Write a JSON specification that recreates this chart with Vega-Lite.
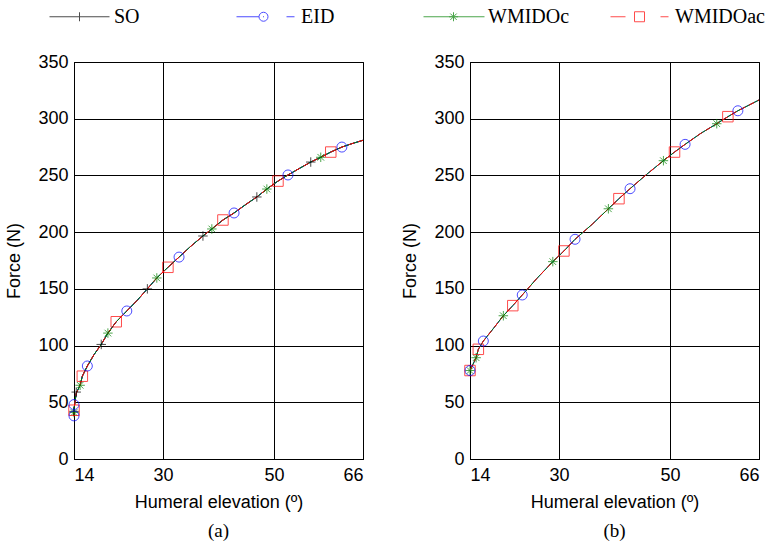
{
  "$schema": "https://vega.github.io/schema/vega-lite/v6.json",
  "background": "white",
  "padding": {"left": 5, "top": 6, "right": 5, "bottom": 5},
  "bounds": "flush",
  "spacing": 107,
  "datasets": {
    "curveA": [
      {"elevation": 14, "force": 38}, {"elevation": 14, "force": 44}, {"elevation": 14.4, "force": 58},
      {"elevation": 15.1, "force": 65}, {"elevation": 15.5, "force": 73}, {"elevation": 16.4, "force": 82},
      {"elevation": 17.6, "force": 92}, {"elevation": 18.9, "force": 101}, {"elevation": 20.1, "force": 111},
      {"elevation": 21.6, "force": 121}, {"elevation": 23.5, "force": 130.5}, {"elevation": 25.4, "force": 140},
      {"elevation": 27.2, "force": 150}, {"elevation": 28.9, "force": 159.6}, {"elevation": 30.9, "force": 169},
      {"elevation": 32.9, "force": 178}, {"elevation": 35, "force": 187.5}, {"elevation": 37.2, "force": 196.6},
      {"elevation": 38.8, "force": 202.8}, {"elevation": 40.8, "force": 210.7}, {"elevation": 42.8, "force": 216.9},
      {"elevation": 44.8, "force": 224}, {"elevation": 46.9, "force": 231}, {"elevation": 48.7, "force": 238},
      {"elevation": 50.7, "force": 245}, {"elevation": 52.5, "force": 250.4}, {"elevation": 54.5, "force": 256},
      {"elevation": 56.6, "force": 261.8}, {"elevation": 58.4, "force": 266}, {"elevation": 60.2, "force": 270.6},
      {"elevation": 62.2, "force": 275}, {"elevation": 64, "force": 278}, {"elevation": 66, "force": 281}
    ],
    "markA": [
      {"series": "SO", "elevation": 14, "force": 42}, {"series": "SO", "elevation": 14.4, "force": 59},
      {"series": "SO", "elevation": 18.9, "force": 101}, {"series": "SO", "elevation": 27.2, "force": 150},
      {"series": "SO", "elevation": 37.2, "force": 196.6}, {"series": "SO", "elevation": 46.9, "force": 231},
      {"series": "SO", "elevation": 56.6, "force": 261.8},
      {"series": "EID", "elevation": 14, "force": 38}, {"series": "EID", "elevation": 14, "force": 48},
      {"series": "EID", "elevation": 16.4, "force": 82}, {"series": "EID", "elevation": 23.5, "force": 130.5},
      {"series": "EID", "elevation": 32.9, "force": 178}, {"series": "EID", "elevation": 42.8, "force": 216.9},
      {"series": "EID", "elevation": 52.5, "force": 250.4}, {"series": "EID", "elevation": 62.2, "force": 275},
      {"series": "WMIDOc", "elevation": 14, "force": 41}, {"series": "WMIDOc", "elevation": 15.1, "force": 65},
      {"series": "WMIDOc", "elevation": 20.1, "force": 111}, {"series": "WMIDOc", "elevation": 28.9, "force": 159.6},
      {"series": "WMIDOc", "elevation": 38.8, "force": 202.8}, {"series": "WMIDOc", "elevation": 48.7, "force": 238},
      {"series": "WMIDOc", "elevation": 58.4, "force": 266},
      {"series": "WMIDOac", "elevation": 14, "force": 43}, {"series": "WMIDOac", "elevation": 15.5, "force": 73},
      {"series": "WMIDOac", "elevation": 21.6, "force": 121}, {"series": "WMIDOac", "elevation": 30.9, "force": 169},
      {"series": "WMIDOac", "elevation": 40.8, "force": 210.7}, {"series": "WMIDOac", "elevation": 50.7, "force": 245},
      {"series": "WMIDOac", "elevation": 60.2, "force": 270.6}
    ],
    "curveB": [
      {"elevation": 14, "force": 78}, {"elevation": 15.1, "force": 89.3}, {"elevation": 15.5, "force": 96.7},
      {"elevation": 16.4, "force": 104}, {"elevation": 18.2, "force": 115}, {"elevation": 20, "force": 126.3},
      {"elevation": 21.7, "force": 135.2}, {"elevation": 23.4, "force": 144.6}, {"elevation": 26, "force": 159},
      {"elevation": 28.9, "force": 174}, {"elevation": 30.9, "force": 183.4}, {"elevation": 32.9, "force": 193.7},
      {"elevation": 36, "force": 207}, {"elevation": 38.9, "force": 220.6}, {"elevation": 40.8, "force": 229.5},
      {"elevation": 42.8, "force": 238.3}, {"elevation": 45.8, "force": 251}, {"elevation": 48.8, "force": 263},
      {"elevation": 50.8, "force": 270.6}, {"elevation": 52.7, "force": 277.4}, {"elevation": 55.5, "force": 287},
      {"elevation": 58.4, "force": 295.6}, {"elevation": 60.4, "force": 301.8}, {"elevation": 62.2, "force": 307},
      {"elevation": 66, "force": 316.5}
    ],
    "markB": [
      {"series": "EID", "elevation": 14, "force": 78}, {"series": "EID", "elevation": 16.4, "force": 104},
      {"series": "EID", "elevation": 23.4, "force": 144.6}, {"series": "EID", "elevation": 32.9, "force": 193.7},
      {"series": "EID", "elevation": 42.8, "force": 238.3}, {"series": "EID", "elevation": 52.7, "force": 277.4},
      {"series": "EID", "elevation": 62.2, "force": 307},
      {"series": "WMIDOc", "elevation": 14, "force": 78}, {"series": "WMIDOc", "elevation": 15.1, "force": 89.3},
      {"series": "WMIDOc", "elevation": 20, "force": 126.3}, {"series": "WMIDOc", "elevation": 28.9, "force": 174},
      {"series": "WMIDOc", "elevation": 38.9, "force": 220.6}, {"series": "WMIDOc", "elevation": 48.8, "force": 263},
      {"series": "WMIDOc", "elevation": 58.4, "force": 295.6},
      {"series": "WMIDOac", "elevation": 14, "force": 78}, {"series": "WMIDOac", "elevation": 15.5, "force": 96.7},
      {"series": "WMIDOac", "elevation": 21.7, "force": 135.2}, {"series": "WMIDOac", "elevation": 30.9, "force": 183.4},
      {"series": "WMIDOac", "elevation": 40.8, "force": 229.5}, {"series": "WMIDOac", "elevation": 50.8, "force": 270.6},
      {"series": "WMIDOac", "elevation": 60.4, "force": 301.8}
    ],
    "legendKeys": [
      {"series": "SO"}, {"series": "EID"}, {"series": "WMIDOc"}, {"series": "WMIDOac"}
    ]
  },
  "hconcat": [
    {
      "width": 289,
      "height": 397,
      "title": {"text": "(a)", "orient": "bottom"},
      "encoding": {
        "x": {"field": "elevation", "type": "quantitative",
              "scale": {"domain": [14, 66], "nice": false, "zero": false},
              "axis": {"values": [14, 30, 50, 66], "title": "Humeral elevation (º)"}},
        "y": {"field": "force", "type": "quantitative",
              "scale": {"domain": [0, 350], "nice": false},
              "axis": {"values": [0, 50, 100, 150, 200, 250, 300, 350], "title": "Force (N)"}}
      },
      "layer": [
        {"data": {"name": "curveA"}, "mark": {"type": "line", "color": "#000000", "strokeWidth": 1}},
        {"data": {"name": "curveA"}, "mark": {"type": "line", "color": "#0000ff", "strokeWidth": 1}},
        {"data": {"name": "curveA"}, "mark": {"type": "line", "color": "#008000", "strokeWidth": 1}},
        {"data": {"name": "curveA"}, "mark": {"type": "line", "color": "#ff0000", "strokeWidth": 1, "strokeDash": [6, 4]}},
        {"data": {"name": "markA"}, "transform": [{"filter": "datum.series === 'SO'"}],
         "mark": {"type": "point", "filled": false, "color": "#000000", "strokeWidth": 1, "size": 90,
                  "shape": "M-1,0H1M0,-1V1"}},
        {"data": {"name": "markA"}, "transform": [{"filter": "datum.series === 'WMIDOc'"}],
         "mark": {"type": "point", "filled": false, "color": "#008000", "strokeWidth": 1, "size": 90,
                  "shape": "M-1,0H1M0,-1V1M-0.7,-0.7L0.7,0.7M-0.7,0.7L0.7,-0.7"}},
        {"data": {"name": "markA"}, "transform": [{"filter": "datum.series === 'WMIDOac'"}],
         "mark": {"type": "point", "filled": false, "color": "#ff0000", "strokeWidth": 1, "size": 110, "shape": "square"}},
        {"data": {"name": "markA"}, "transform": [{"filter": "datum.series === 'EID'"}],
         "mark": {"type": "point", "filled": false, "color": "#0000ff", "strokeWidth": 1, "size": 100, "shape": "circle"}},
        {"data": {"name": "legendKeys"}, "transform": [{"filter": "false"}],
         "mark": {"type": "point", "filled": false, "strokeWidth": 1},
         "encoding": {
           "x": {"value": 0}, "y": {"value": 0},
           "color": {"field": "series", "type": "nominal",
                     "scale": {"domain": ["SO", "EID", "WMIDOc", "WMIDOac"],
                               "range": ["#000000", "#0000ff", "#008000", "#ff0000"]},
                     "legend": {"orient": "none", "legendX": -25, "legendY": -56, "direction": "horizontal",
                                "columns": 4, "gridAlign": "all", "columnPadding": 30, "title": null,
                                "symbolSize": 400, "symbolStrokeWidth": 1, "labelFont": "Liberation Serif",
                                "labelFontSize": 20, "labelOffset": 44, "labelColor": "#000000"}},
           "shape": {"field": "series", "type": "nominal",
                     "scale": {"domain": ["SO", "EID", "WMIDOc", "WMIDOac"],
                               "range": [
                                 "M-1,0H5M2,-0.45V0.45",
                                 "M-1,0H1.25M2.15,0A0.45,0.45 0 1,1 1.25,0A0.45,0.45 0 1,1 2.15,0M1.75,0H1.65M4,0H4.8",
                                 "M-1,0H5.1M2,-0.45V0.45M1.55,0H2.45M1.68,-0.32L2.32,0.32M1.68,0.32L2.32,-0.32",
                                 "M-1,0H0.5M1.4,-0.5H2.4V0.5H1.4ZM4,0H4.8"
                               ]},
                     "legend": {"orient": "none", "legendX": -25, "legendY": -56, "direction": "horizontal",
                                "columns": 4, "gridAlign": "all", "columnPadding": 30, "title": null,
                                "symbolSize": 400, "symbolStrokeWidth": 1, "labelFont": "Liberation Serif",
                                "labelFontSize": 20, "labelOffset": 44, "labelColor": "#000000"}}
         }}
      ]
    },
    {
      "width": 289,
      "height": 397,
      "title": {"text": "(b)", "orient": "bottom"},
      "encoding": {
        "x": {"field": "elevation", "type": "quantitative",
              "scale": {"domain": [14, 66], "nice": false, "zero": false},
              "axis": {"values": [14, 30, 50, 66], "title": "Humeral elevation (º)"}},
        "y": {"field": "force", "type": "quantitative",
              "scale": {"domain": [0, 350], "nice": false},
              "axis": {"values": [0, 50, 100, 150, 200, 250, 300, 350], "title": "Force (N)"}}
      },
      "layer": [
        {"data": {"name": "curveB"}, "mark": {"type": "line", "color": "#0000ff", "strokeWidth": 1}},
        {"data": {"name": "curveB"}, "mark": {"type": "line", "color": "#008000", "strokeWidth": 1}},
        {"data": {"name": "curveB"}, "mark": {"type": "line", "color": "#ff0000", "strokeWidth": 1, "strokeDash": [6, 4]}},
        {"data": {"name": "markB"}, "transform": [{"filter": "datum.series === 'WMIDOc'"}],
         "mark": {"type": "point", "filled": false, "color": "#008000", "strokeWidth": 1, "size": 90,
                  "shape": "M-1,0H1M0,-1V1M-0.7,-0.7L0.7,0.7M-0.7,0.7L0.7,-0.7"}},
        {"data": {"name": "markB"}, "transform": [{"filter": "datum.series === 'WMIDOac'"}],
         "mark": {"type": "point", "filled": false, "color": "#ff0000", "strokeWidth": 1, "size": 110, "shape": "square"}},
        {"data": {"name": "markB"}, "transform": [{"filter": "datum.series === 'EID'"}],
         "mark": {"type": "point", "filled": false, "color": "#0000ff", "strokeWidth": 1, "size": 100, "shape": "circle"}}
      ]
    }
  ],
  "config": {
    "view": {"stroke": "#000000", "strokeWidth": 1},
    "axis": {
      "grid": true, "gridColor": "#000000", "gridOpacity": 1, "gridWidth": 1,
      "domainColor": "#000000", "ticks": false,
      "labelFont": "Liberation Sans", "labelFontSize": 18, "labelColor": "#000000",
      "titleFont": "Liberation Sans", "titleFontSize": 18, "titleFontWeight": "normal", "titleColor": "#000000"
    },
    "axisX": {"labelPadding": 7, "titlePadding": 9},
    "axisY": {"labelPadding": 6, "titlePadding": 14},
    "title": {"font": "Liberation Serif", "fontSize": 19, "fontWeight": "normal", "color": "#000000", "offset": 11}
  }
}
